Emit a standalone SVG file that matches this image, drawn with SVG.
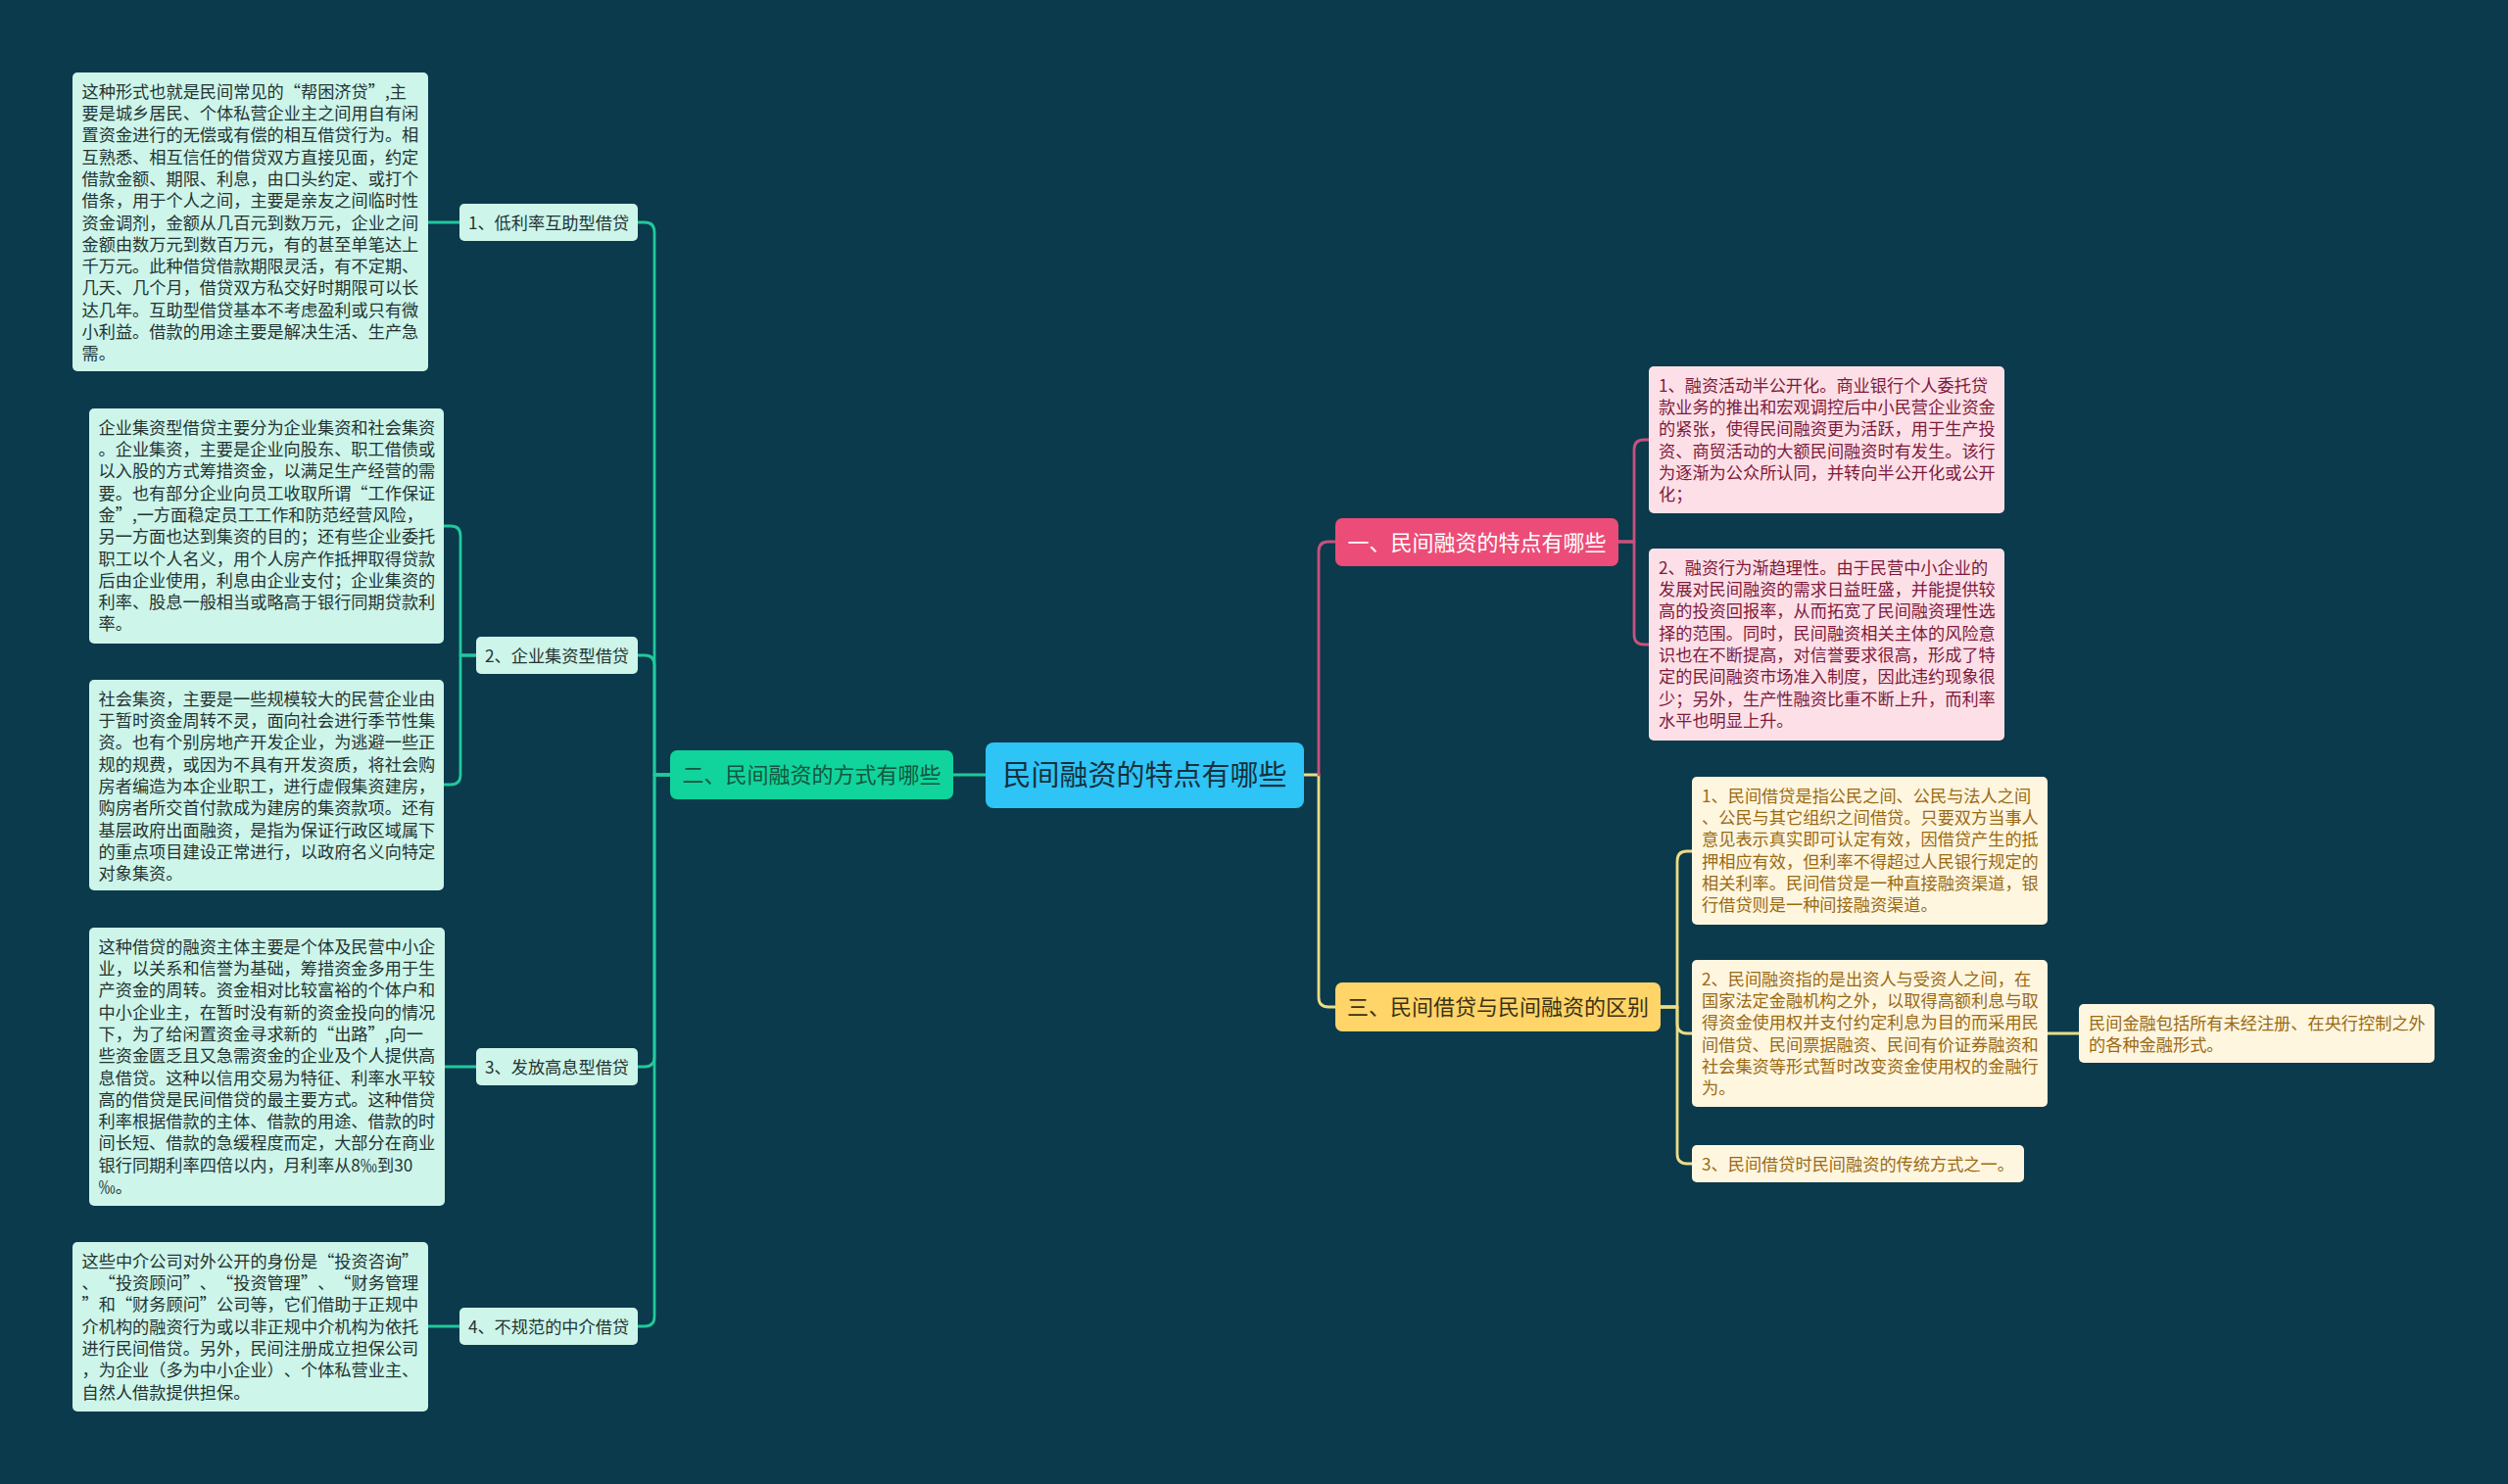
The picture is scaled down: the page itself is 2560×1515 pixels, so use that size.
<svg xmlns="http://www.w3.org/2000/svg" width="2560" height="1515" viewBox="0 0 2560 1515">
<style>
text{font-family:"Noto Sans CJK SC","Noto Sans",sans-serif;text-spacing-trim:space-all;}
.t{font-size:17.2px;}
.bg-g{fill:#cdf5ea;}
.bg-p{fill:#fde0e7;}
.bg-y{fill:#fff6df;}
.tx-g{fill:#243432;}
.tx-p{fill:#7d1a3c;}
.tx-y{fill:#9a6a14;}
.c{fill:none;stroke-width:2.8;stroke-linecap:round;stroke-linejoin:round;}
.cg{stroke:#22c89c;}
.cp{stroke:#c9517d;}
.cy{stroke:#ecdc86;}
</style>
<rect width="2560" height="1515" fill="#0a3a4c"/>

<g id="connectors">
  <path class="c cg" d="M1006,791 H973"/>
  <path class="c cg" d="M684,791 H668 V237 Q668,227 658,227 H651"/>
  <path class="c cg" d="M684,791 H668 V679 Q668,669 658,669 H651"/>
  <path class="c cg" d="M684,791 H668 V1079 Q668,1089 658,1089 H651"/>
  <path class="c cg" d="M684,791 H668 V1344 Q668,1354 658,1354 H651"/>
  <path class="c cg" d="M469,227 H437"/>
  <path class="c cg" d="M486,669 H470 V547 Q470,537 460,537 H453"/>
  <path class="c cg" d="M486,669 H470 V791 Q470,801 460,801 H453"/>
  <path class="c cg" d="M486,1089 H454"/>
  <path class="c cg" d="M469,1354 H437"/>
  <path class="c cy" d="M1331,791 H1346 V1018 Q1346,1028 1356,1028 H1363"/>
  <path class="c cp" d="M1346,791 V563 Q1346,553 1356,553 H1363"/>
  <path class="c cp" d="M1652,553 H1668 V459 Q1668,449 1678,449 H1683"/>
  <path class="c cp" d="M1652,553 H1668 V648 Q1668,658 1678,658 H1683"/>
  <path class="c cy" d="M1695,1028 H1712 V879 Q1712,869 1722,869 H1727"/>
  <path class="c cy" d="M1695,1028 H1712 V1045 Q1712,1055 1722,1055 H1727"/>
  <path class="c cy" d="M1695,1028 H1712 V1178 Q1712,1188 1722,1188 H1727"/>
  <path class="c cy" d="M2090,1055 H2122"/>
</g>

<g id="center">
  <rect x="1006" y="758" width="325" height="67" rx="8" fill="#2ec4f6"/>
  <text x="1168.5" y="801.5" font-size="29" text-anchor="middle" fill="#16303d">民间融资的特点有哪些</text>
</g>

<g id="main2">
  <rect x="684" y="766" width="289" height="50" rx="7" fill="#10d49c"/>
  <text x="828.5" y="799.4" font-size="22" text-anchor="middle" fill="#14563f">二、民间融资的方式有哪些</text>
</g>

<g id="main1">
  <rect x="1363" y="529" width="289" height="49" rx="7" fill="#ec4c78"/>
  <text x="1507.5" y="561.9" font-size="22" text-anchor="middle" fill="#ffffff">一、民间融资的特点有哪些</text>
</g>

<g id="main3">
  <rect x="1363" y="1003" width="332" height="50" rx="7" fill="#ffd468"/>
  <text x="1529" y="1036.4" font-size="22" text-anchor="middle" fill="#3b3213">三、民间借贷与民间融资的区别</text>
</g>

<g id="sub1">
  <rect class="bg-g" x="469" y="208" width="182" height="38" rx="5"/>
  <text class="t tx-g" x="560" y="233.5" text-anchor="middle">1、低利率互助型借贷</text>
</g>
<g id="sub2">
  <rect class="bg-g" x="486" y="650" width="165" height="38" rx="5"/>
  <text class="t tx-g" x="568.5" y="675.5" text-anchor="middle">2、企业集资型借贷</text>
</g>
<g id="sub3">
  <rect class="bg-g" x="486" y="1070" width="165" height="38" rx="5"/>
  <text class="t tx-g" x="568.5" y="1095.5" text-anchor="middle">3、发放高息型借贷</text>
</g>
<g id="sub4">
  <rect class="bg-g" x="469" y="1335" width="182" height="38" rx="5"/>
  <text class="t tx-g" x="560" y="1360.5" text-anchor="middle">4、不规范的中介借贷</text>
</g>

<g id="leaf1">
  <rect class="bg-g" x="74" y="74" width="363" height="305" rx="5"/>
  <text class="t tx-g" y="99.7">
    <tspan x="83.5">这种形式也就是民间常见的“帮困济贷”,主</tspan>
    <tspan x="83.5" dy="22.3">要是城乡居民、个体私营企业主之间用自有闲</tspan>
    <tspan x="83.5" dy="22.3">置资金进行的无偿或有偿的相互借贷行为。相</tspan>
    <tspan x="83.5" dy="22.3">互熟悉、相互信任的借贷双方直接见面，约定</tspan>
    <tspan x="83.5" dy="22.3">借款金额、期限、利息，由口头约定、或打个</tspan>
    <tspan x="83.5" dy="22.3">借条，用于个人之间，主要是亲友之间临时性</tspan>
    <tspan x="83.5" dy="22.3">资金调剂，金额从几百元到数万元，企业之间</tspan>
    <tspan x="83.5" dy="22.3">金额由数万元到数百万元，有的甚至单笔达上</tspan>
    <tspan x="83.5" dy="22.3">千万元。此种借贷借款期限灵活，有不定期、</tspan>
    <tspan x="83.5" dy="22.3">几天、几个月，借贷双方私交好时期限可以长</tspan>
    <tspan x="83.5" dy="22.3">达几年。互助型借贷基本不考虑盈利或只有微</tspan>
    <tspan x="83.5" dy="22.3">小利益。借款的用途主要是解决生活、生产急</tspan>
    <tspan x="83.5" dy="22.3">需。</tspan>
  </text>
</g>

<g id="leaf2a">
  <rect class="bg-g" x="91" y="417" width="362" height="240" rx="5"/>
  <text class="t tx-g" y="442.7">
    <tspan x="100.5">企业集资型借贷主要分为企业集资和社会集资</tspan>
    <tspan x="100.5" dy="22.3">。企业集资，主要是企业向股东、职工借债或</tspan>
    <tspan x="100.5" dy="22.3">以入股的方式筹措资金，以满足生产经营的需</tspan>
    <tspan x="100.5" dy="22.3">要。也有部分企业向员工收取所谓“工作保证</tspan>
    <tspan x="100.5" dy="22.3">金”,一方面稳定员工工作和防范经营风险，</tspan>
    <tspan x="100.5" dy="22.3">另一方面也达到集资的目的；还有些企业委托</tspan>
    <tspan x="100.5" dy="22.3">职工以个人名义，用个人房产作抵押取得贷款</tspan>
    <tspan x="100.5" dy="22.3">后由企业使用，利息由企业支付；企业集资的</tspan>
    <tspan x="100.5" dy="22.3">利率、股息一般相当或略高于银行同期贷款利</tspan>
    <tspan x="100.5" dy="22.3">率。</tspan>
  </text>
</g>

<g id="leaf2b">
  <rect class="bg-g" x="91" y="694" width="362" height="215" rx="5"/>
  <text class="t tx-g" y="719.7">
    <tspan x="100.5">社会集资，主要是一些规模较大的民营企业由</tspan>
    <tspan x="100.5" dy="22.3">于暂时资金周转不灵，面向社会进行季节性集</tspan>
    <tspan x="100.5" dy="22.3">资。也有个别房地产开发企业，为逃避一些正</tspan>
    <tspan x="100.5" dy="22.3">规的规费，或因为不具有开发资质，将社会购</tspan>
    <tspan x="100.5" dy="22.3">房者编造为本企业职工，进行虚假集资建房，</tspan>
    <tspan x="100.5" dy="22.3">购房者所交首付款成为建房的集资款项。还有</tspan>
    <tspan x="100.5" dy="22.3">基层政府出面融资，是指为保证行政区域属下</tspan>
    <tspan x="100.5" dy="22.3">的重点项目建设正常进行，以政府名义向特定</tspan>
    <tspan x="100.5" dy="22.3">对象集资。</tspan>
  </text>
</g>

<g id="leaf3">
  <rect class="bg-g" x="91" y="947" width="363" height="284" rx="5"/>
  <text class="t tx-g" y="972.7">
    <tspan x="100.5">这种借贷的融资主体主要是个体及民营中小企</tspan>
    <tspan x="100.5" dy="22.3">业，以关系和信誉为基础，筹措资金多用于生</tspan>
    <tspan x="100.5" dy="22.3">产资金的周转。资金相对比较富裕的个体户和</tspan>
    <tspan x="100.5" dy="22.3">中小企业主，在暂时没有新的资金投向的情况</tspan>
    <tspan x="100.5" dy="22.3">下，为了给闲置资金寻求新的“出路”,向一</tspan>
    <tspan x="100.5" dy="22.3">些资金匮乏且又急需资金的企业及个人提供高</tspan>
    <tspan x="100.5" dy="22.3">息借贷。这种以信用交易为特征、利率水平较</tspan>
    <tspan x="100.5" dy="22.3">高的借贷是民间借贷的最主要方式。这种借贷</tspan>
    <tspan x="100.5" dy="22.3">利率根据借款的主体、借款的用途、借款的时</tspan>
    <tspan x="100.5" dy="22.3">间长短、借款的急缓程度而定，大部分在商业</tspan>
    <tspan x="100.5" dy="22.3">银行同期利率四倍以内，月利率从8‰到30</tspan>
    <tspan x="100.5" dy="22.3">‰。</tspan>
  </text>
</g>

<g id="leaf4">
  <rect class="bg-g" x="74" y="1268" width="363" height="173" rx="5"/>
  <text class="t tx-g" y="1293.7">
    <tspan x="83.5">这些中介公司对外公开的身份是“投资咨询”</tspan>
    <tspan x="83.5" dy="22.3">、“投资顾问”、“投资管理”、“财务管理</tspan>
    <tspan x="83.5" dy="22.3">”和“财务顾问”公司等，它们借助于正规中</tspan>
    <tspan x="83.5" dy="22.3">介机构的融资行为或以非正规中介机构为依托</tspan>
    <tspan x="83.5" dy="22.3">进行民间借贷。另外，民间注册成立担保公司</tspan>
    <tspan x="83.5" dy="22.3">，为企业（多为中小企业）、个体私营业主、</tspan>
    <tspan x="83.5" dy="22.3">自然人借款提供担保。</tspan>
  </text>
</g>

<g id="leafR1a">
  <rect class="bg-p" x="1683" y="374" width="363" height="150" rx="5"/>
  <text class="t tx-p" y="399.7">
    <tspan x="1693">1、融资活动半公开化。商业银行个人委托贷</tspan>
    <tspan x="1693" dy="22.3">款业务的推出和宏观调控后中小民营企业资金</tspan>
    <tspan x="1693" dy="22.3">的紧张，使得民间融资更为活跃，用于生产投</tspan>
    <tspan x="1693" dy="22.3">资、商贸活动的大额民间融资时有发生。该行</tspan>
    <tspan x="1693" dy="22.3">为逐渐为公众所认同，并转向半公开化或公开</tspan>
    <tspan x="1693" dy="22.3">化；</tspan>
  </text>
</g>

<g id="leafR1b">
  <rect class="bg-p" x="1683" y="560" width="363" height="196" rx="5"/>
  <text class="t tx-p" y="585.7">
    <tspan x="1693">2、融资行为渐趋理性。由于民营中小企业的</tspan>
    <tspan x="1693" dy="22.3">发展对民间融资的需求日益旺盛，并能提供较</tspan>
    <tspan x="1693" dy="22.3">高的投资回报率，从而拓宽了民间融资理性选</tspan>
    <tspan x="1693" dy="22.3">择的范围。同时，民间融资相关主体的风险意</tspan>
    <tspan x="1693" dy="22.3">识也在不断提高，对信誉要求很高，形成了特</tspan>
    <tspan x="1693" dy="22.3">定的民间融资市场准入制度，因此违约现象很</tspan>
    <tspan x="1693" dy="22.3">少；另外，生产性融资比重不断上升，而利率</tspan>
    <tspan x="1693" dy="22.3">水平也明显上升。</tspan>
  </text>
</g>

<g id="leafR3a">
  <rect class="bg-y" x="1727" y="793" width="363" height="151" rx="5"/>
  <text class="t tx-y" y="818.7">
    <tspan x="1737">1、民间借贷是指公民之间、公民与法人之间</tspan>
    <tspan x="1737" dy="22.3">、公民与其它组织之间借贷。只要双方当事人</tspan>
    <tspan x="1737" dy="22.3">意见表示真实即可认定有效，因借贷产生的抵</tspan>
    <tspan x="1737" dy="22.3">押相应有效，但利率不得超过人民银行规定的</tspan>
    <tspan x="1737" dy="22.3">相关利率。民间借贷是一种直接融资渠道，银</tspan>
    <tspan x="1737" dy="22.3">行借贷则是一种间接融资渠道。</tspan>
  </text>
</g>

<g id="leafR3b">
  <rect class="bg-y" x="1727" y="980" width="363" height="150" rx="5"/>
  <text class="t tx-y" y="1005.7">
    <tspan x="1737">2、民间融资指的是出资人与受资人之间，在</tspan>
    <tspan x="1737" dy="22.3">国家法定金融机构之外，以取得高额利息与取</tspan>
    <tspan x="1737" dy="22.3">得资金使用权并支付约定利息为目的而采用民</tspan>
    <tspan x="1737" dy="22.3">间借贷、民间票据融资、民间有价证券融资和</tspan>
    <tspan x="1737" dy="22.3">社会集资等形式暂时改变资金使用权的金融行</tspan>
    <tspan x="1737" dy="22.3">为。</tspan>
  </text>
</g>

<g id="leafR3c">
  <rect class="bg-y" x="1727" y="1169" width="339" height="38" rx="5"/>
  <text class="t tx-y" x="1737" y="1194.5">3、民间借贷时民间融资的传统方式之一。</text>
</g>

<g id="leafR3b1">
  <rect class="bg-y" x="2122" y="1025" width="363" height="60" rx="5"/>
  <text class="t tx-y" y="1050.7">
    <tspan x="2132">民间金融包括所有未经注册、在央行控制之外</tspan>
    <tspan x="2132" dy="22.3">的各种金融形式。</tspan>
  </text>
</g>
</svg>
